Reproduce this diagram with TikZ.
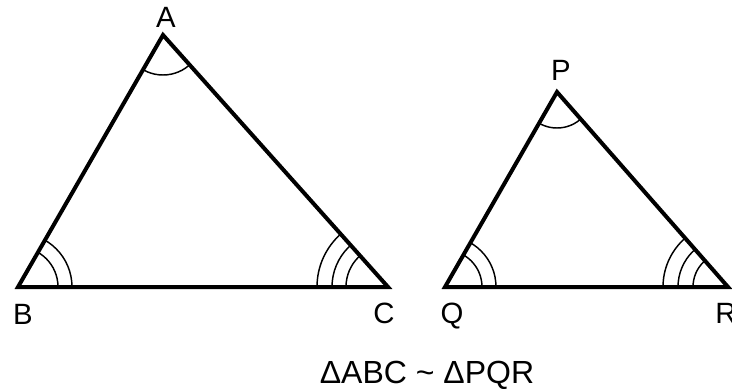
\documentclass[tikz,border=0pt]{standalone}
\usepackage{fontspec}
\setmainfont{Liberation Sans}
\begin{document}
\begin{tikzpicture}[x=0.75pt,y=-0.75pt,
  tri/.style={line width=3pt, line join=miter},
  arcmark/.style={line width=1.1pt},
  lbl/.style={font=\fontsize{22}{22}\selectfont, inner sep=0pt, anchor=base},
  rellbl/.style={font=\fontsize{24}{24}\selectfont, inner sep=0pt, anchor=base}]
\useasboundingbox (0,0) rectangle (732,389);
% triangle ABC
\coordinate (A) at (163,35);
\coordinate (B) at (18,287);
\coordinate (C) at (388,287);
\begin{scope}
  \clip (A) -- (B) -- (C) -- cycle;
  \draw[arcmark] (A) circle[radius=40];
  \draw[arcmark] (B) circle[radius=40] (B) circle[radius=54];
  \draw[arcmark] (C) circle[radius=42] (C) circle[radius=56] (C) circle[radius=71];
\end{scope}
\draw[tri] (A) -- (B) -- (C) -- cycle;
% triangle PQR
\coordinate (P) at (557,92);
\coordinate (Q) at (445,287);
\coordinate (R) at (728,287);
\begin{scope}
  \clip (P) -- (Q) -- (R) -- cycle;
  \draw[arcmark] (P) circle[radius=36];
  \draw[arcmark] (Q) circle[radius=37] (Q) circle[radius=51];
  \draw[arcmark] (R) circle[radius=35] (R) circle[radius=50] (R) circle[radius=65];
\end{scope}
\draw[tri] (P) -- (Q) -- (R) -- cycle;
% labels
\node[lbl] (lA) at (166,27) {A};
\node[lbl] (lB) at (23,324) {B};
\node[lbl] (lC) at (384,323) {C};
\node[lbl] (lP) at (561,80) {P};
\node[lbl] (lQ) at (452,323) {Q};
\node[lbl] (lR) at (726,323) {R};
\node[rellbl] (rel) at (427,383) {ΔABC \textasciitilde\ ΔPQR};
\end{tikzpicture}
\end{document}
